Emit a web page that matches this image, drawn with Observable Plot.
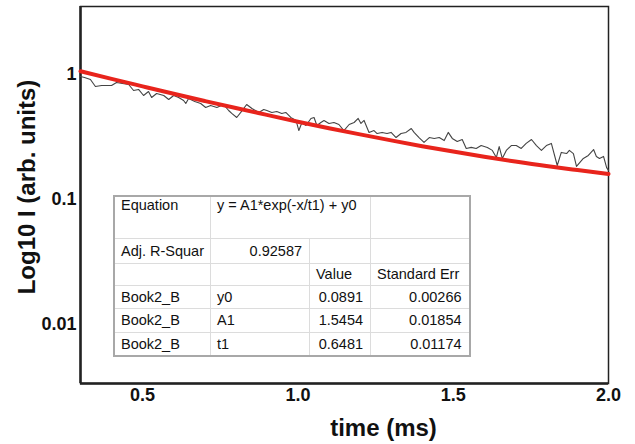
<!DOCTYPE html>
<html>
<head>
<meta charset="utf-8">
<script src="https://cdn.jsdelivr.net/npm/d3@7"></script>
<script src="https://cdn.jsdelivr.net/npm/@observablehq/plot@0.6"></script>
<style>
  html, body { margin: 0; padding: 0; background: #fff; }
  #wrap { position: relative; width: 635px; height: 444px; font-family: "Liberation Sans", Arial, sans-serif; }
  #wrap svg { display: block; }
  table.fit {
    position: absolute; left: 113px; top: 195px;
    border-collapse: collapse; table-layout: fixed;
    font-family: "Liberation Sans", Arial, sans-serif; font-size: 14.5px; color: #111;
    background: #fff; border: 2px solid #a8a8a8;
  }
  table.fit td { border: 1px solid #dcdcdc; padding: 0 6px; white-space: nowrap; overflow: hidden; line-height: 16px; }
  table.fit td.r { text-align: right; padding-right: 7px; }
  table.fit tr.eq td { vertical-align: top; padding-top: 0px; }
</style>
</head>
<body>
<div id="wrap"></div>
<script>
// measured trace (time in ms, intensity)
const timeData = [0.300,0.313,0.332,0.348,0.368,0.384,0.400,0.416,0.435,0.455,0.471,0.487,0.503,0.519,0.529,0.545,0.568,0.584,0.600,0.616,0.632,0.639,0.648,0.668,0.687,0.703,0.719,0.739,0.761,0.777,0.787,0.803,0.816,0.835,0.852,0.874,0.890,0.900,0.916,0.932,0.948,0.961,0.977,0.994,1.003,1.013,1.026,1.042,1.052,1.061,1.074,1.084,1.100,1.116,1.132,1.148,1.165,1.181,1.194,1.203,1.213,1.229,1.245,1.255,1.271,1.287,1.300,1.316,1.332,1.348,1.365,1.374,1.390,1.406,1.423,1.439,1.455,1.471,1.484,1.497,1.513,1.529,1.542,1.558,1.574,1.590,1.610,1.626,1.639,1.648,1.658,1.671,1.687,1.703,1.719,1.735,1.752,1.768,1.784,1.800,1.816,1.835,1.848,1.865,1.874,1.887,1.897,1.919,1.935,1.952,1.961,1.971,1.984,1.994,2.000];
const intensityData = [0.964,0.946,0.912,0.802,0.817,0.817,0.817,0.863,0.847,0.832,0.745,0.759,0.679,0.731,0.655,0.705,0.679,0.631,0.679,0.655,0.619,0.586,0.643,0.608,0.586,0.545,0.565,0.545,0.575,0.515,0.488,0.453,0.497,0.575,0.535,0.497,0.525,0.515,0.497,0.506,0.488,0.497,0.453,0.429,0.356,0.413,0.391,0.445,0.453,0.391,0.413,0.429,0.406,0.413,0.398,0.356,0.398,0.413,0.445,0.406,0.429,0.344,0.356,0.337,0.344,0.337,0.344,0.313,0.337,0.344,0.370,0.344,0.313,0.286,0.313,0.308,0.313,0.296,0.344,0.308,0.291,0.302,0.256,0.261,0.256,0.270,0.261,0.247,0.217,0.265,0.213,0.247,0.270,0.270,0.256,0.281,0.302,0.270,0.247,0.270,0.281,0.187,0.238,0.233,0.247,0.233,0.184,0.213,0.225,0.251,0.221,0.213,0.221,0.180,0.171];

// fitted curve
const fitTime = [0.3,0.4,0.5,0.6,0.7,0.8,0.9,1.0,1.1,1.2,1.3,1.4,1.5,1.6,1.7,1.8,1.9,2.0];
const fitIntensity = [1.062,0.923,0.804,0.701,0.614,0.539,0.475,0.419,0.372,0.332,0.297,0.267,0.242,0.220,0.201,0.185,0.172,0.160];

const xTicks = [0.5, 1.0, 1.5, 2.0];
const yTicks = [0.01, 0.1, 1];
const xDomain = [0.3, 2.0];
const yDomain = [0.00337, 3.5];

const xLabel = "time (ms)";
const yLabel = "Log10 I (arb. units)";

const tableRows = [
  ["Book2_B", "y0", "0.0891", "0.00266"],
  ["Book2_B", "A1", "1.5454", "0.01854"],
  ["Book2_B", "t1", "0.6481", "0.01174"]
];

const trace = timeData.map((t, i) => ({t, v: intensityData[i]}));
const fit = fitTime.map((t, i) => ({t, v: fitIntensity[i]}));

const chart = Plot.plot({
  width: 635,
  height: 444,
  marginLeft: 80,
  marginRight: 27,
  marginTop: 6,
  marginBottom: 61,
  style: {fontFamily: "'Liberation Sans', Arial, sans-serif", color: "#111", background: "#fff"},
  x: {domain: xDomain, ticks: xTicks, tickFormat: d => d.toFixed(1), tickSize: 0, tickPadding: 5, label: null},
  y: {type: "log", domain: yDomain, ticks: yTicks, tickFormat: d => String(d), tickSize: 0, tickPadding: 4, label: null},
  marks: [
    Plot.frame({stroke: "#222", strokeWidth: 1.5}),
    Plot.ruleX([xDomain[0]], {stroke: "#222", strokeWidth: 2.5}),
    Plot.ruleY([yDomain[0]], {stroke: "#222", strokeWidth: 2.5}),
    Plot.line(trace, {x: "t", y: "v", stroke: "#444", strokeWidth: 1.1}),
    Plot.line(fit, {x: "t", y: "v", stroke: "#e8241c", strokeWidth: 4, curve: "natural"}),
    Plot.text([xLabel], {frameAnchor: "bottom", textAnchor: "middle", lineAnchor: "middle", dx: 39, dy: 45, fontSize: 24, fontWeight: "bold", fill: "#111"}),
    Plot.text([yLabel], {frameAnchor: "left", textAnchor: "middle", lineAnchor: "middle", rotate: -90, dx: -53, dy: -8, fontSize: 24, fontWeight: "bold", fill: "#111"})
  ]
});

d3.select(chart).selectAll('g[aria-label="x-axis tick label"], g[aria-label="y-axis tick label"]')
  .attr("font-size", 18).attr("font-weight", "bold");

const wrap = document.getElementById("wrap");
wrap.appendChild(chart);

// fit result table
const table = document.createElement("table");
table.className = "fit";
const colW = [95, 99, 61, 99];
const cg = document.createElement("colgroup");
colW.forEach(w => { const c = document.createElement("col"); c.style.width = w + "px"; cg.appendChild(c); });
table.appendChild(cg);
function row(cells, h, cls) {
  const tr = document.createElement("tr");
  if (cls) tr.className = cls;
  tr.style.height = h + "px";
  cells.forEach(c => {
    const td = document.createElement("td");
    td.textContent = c.text;
    if (c.span) td.colSpan = c.span;
    if (c.r) td.className = "r";
    tr.appendChild(td);
  });
  table.appendChild(tr);
}
row([{text: "Equation"}, {text: "y = A1*exp(-x/t1) + y0", span: 2}, {text: ""}], 42, "eq");
row([{text: "Adj. R-Squar"}, {text: "0.92587", r: true}, {text: ""}, {text: ""}], 25);
row([{text: ""}, {text: ""}, {text: "Value"}, {text: "Standard Err"}], 22);
tableRows.forEach(r => row([{text: r[0]}, {text: r[1]}, {text: r[2], r: true}, {text: r[3], r: true}], 23.5));
wrap.appendChild(table);
</script>
</body>
</html>
